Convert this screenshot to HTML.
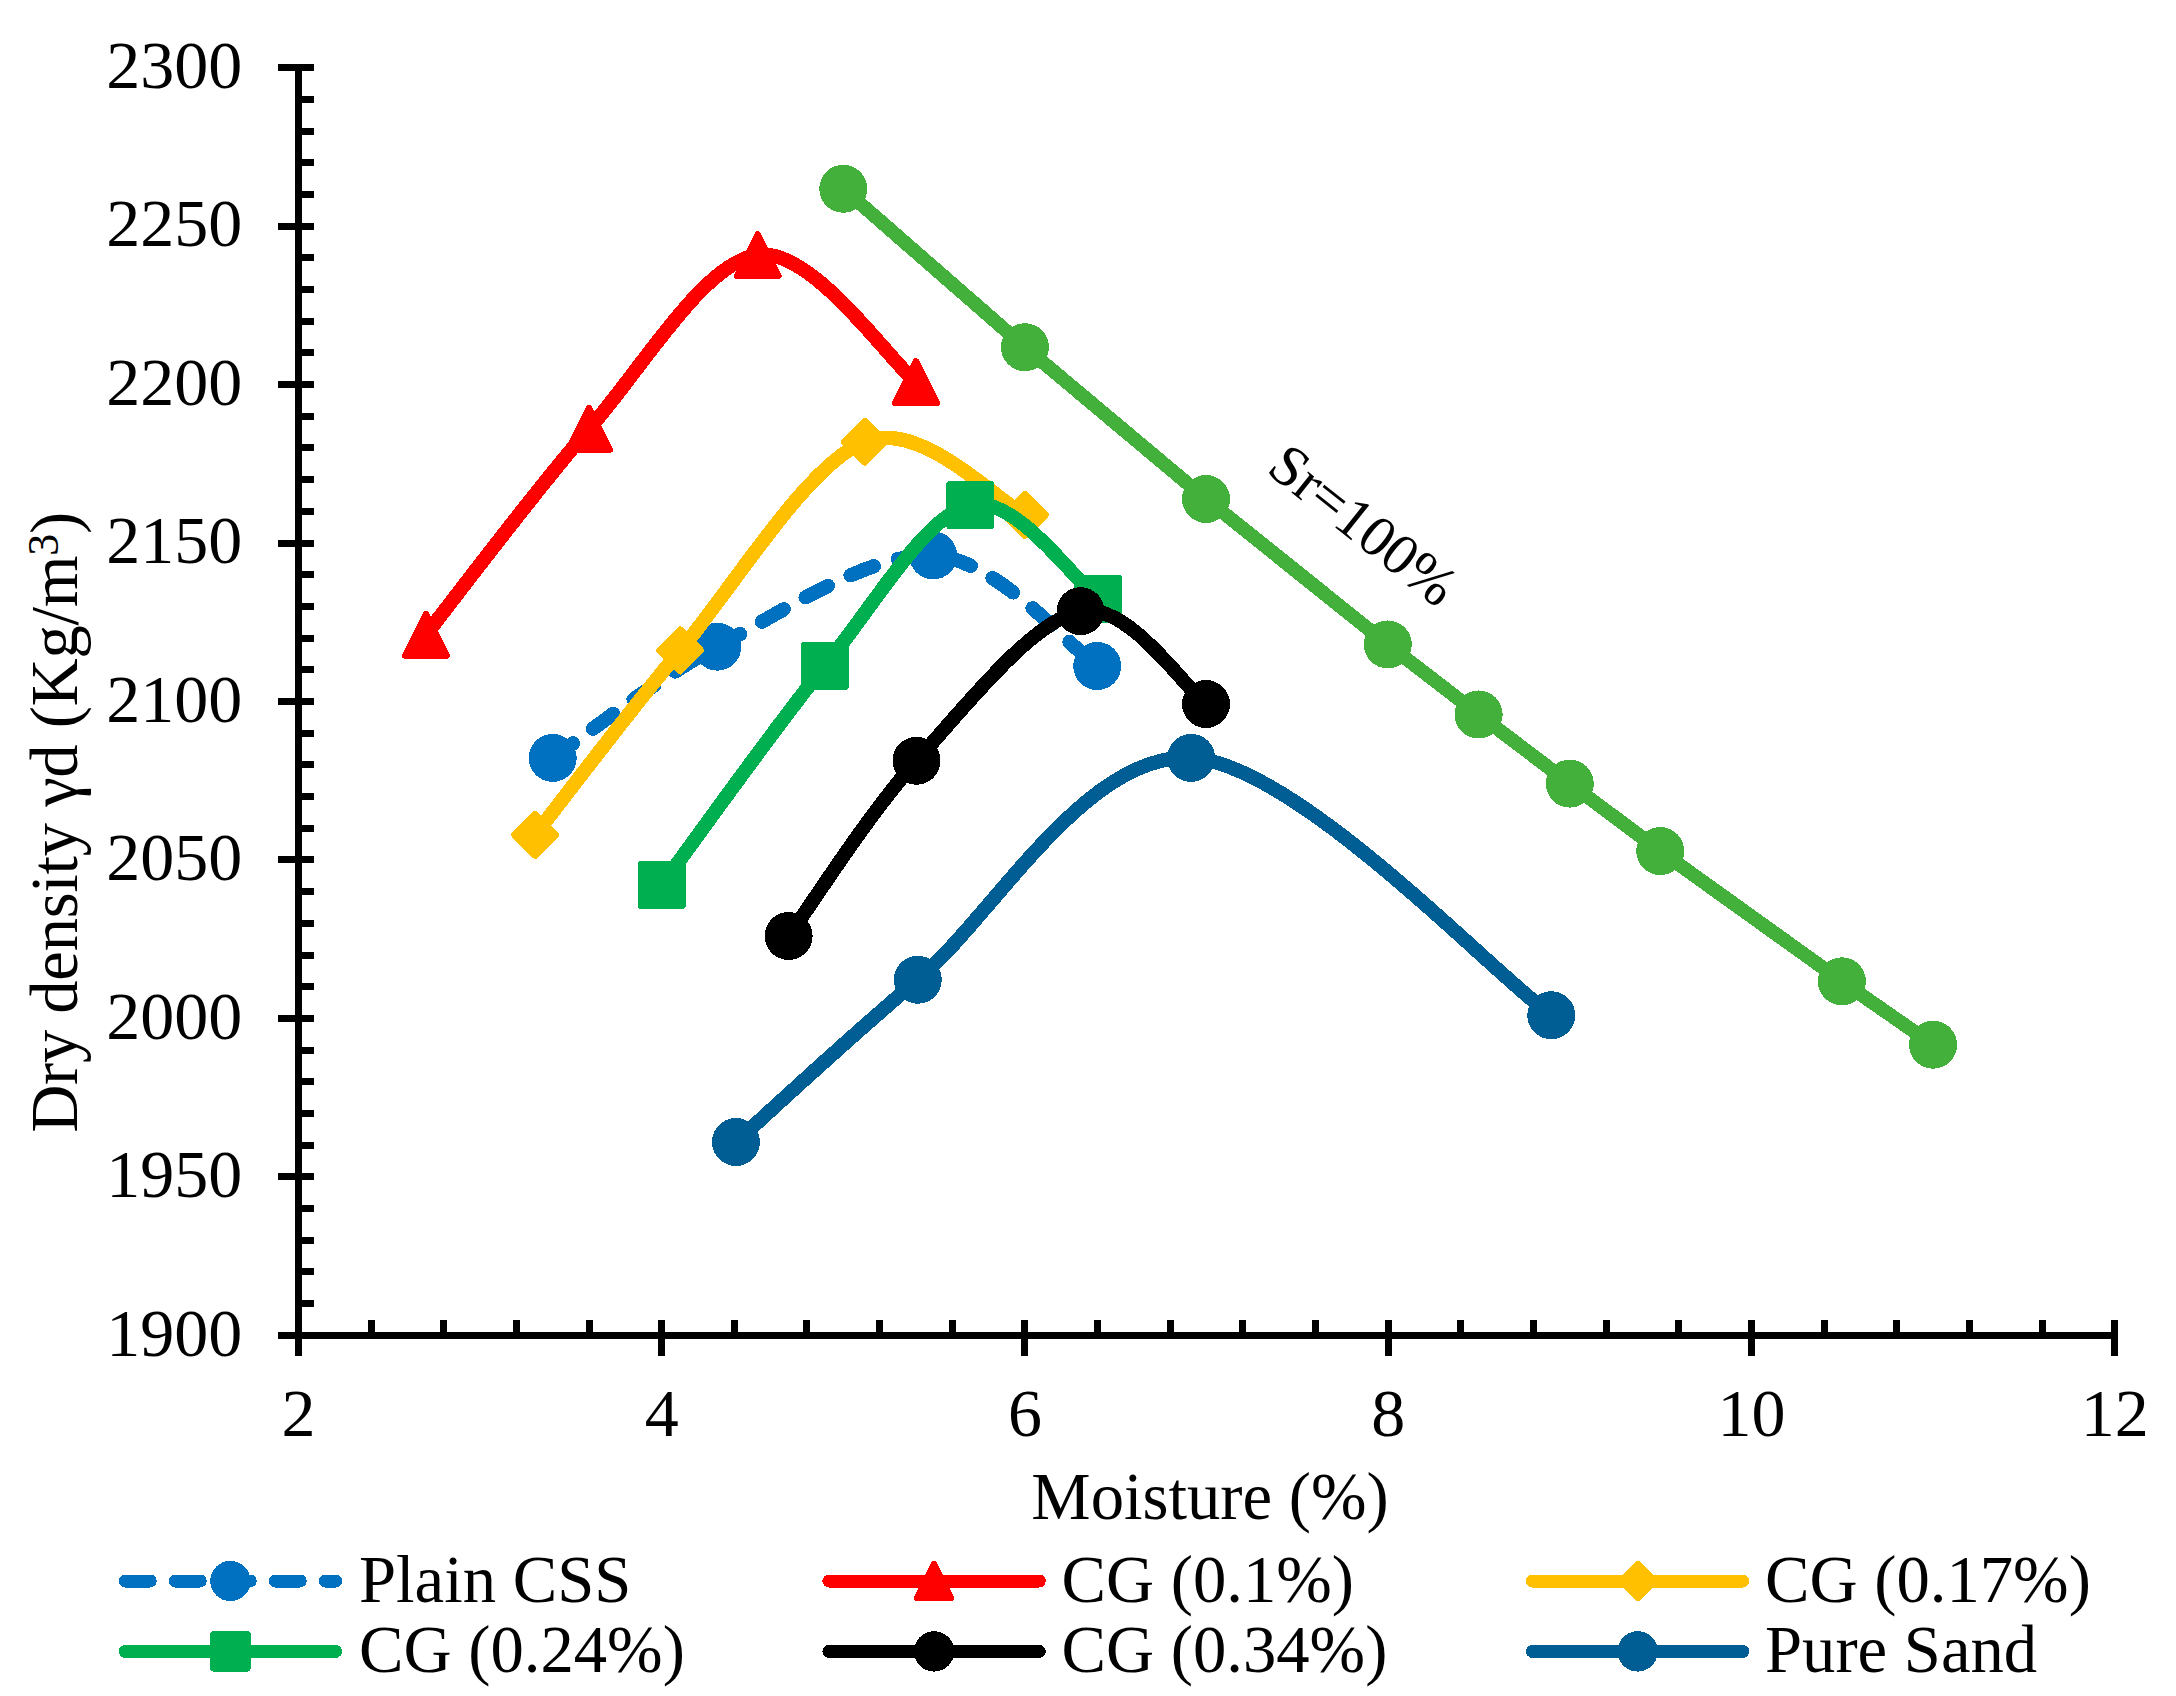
<!DOCTYPE html>
<html lang="en"><head><meta charset="utf-8"><title>Compaction curves</title>
<style>html,body{margin:0;padding:0;background:#fff}svg{display:block}</style></head>
<body>
<svg width="2176" height="1696" viewBox="0 0 2176 1696">
<rect width="2176" height="1696" fill="#fff"/>
<g stroke="#000" stroke-width="6.60" fill="none" stroke-linecap="butt" shape-rendering="crispEdges">
<path d="M298.40 64.40 V1355.70"/>
<path d="M278.70 1335.30 H2118.00"/>
<path d="M278.20 1335.30H313.60M298.40 1303.61H313.60M298.40 1271.92H313.60M298.40 1240.23H313.60M298.40 1208.54H313.60M278.20 1176.85H313.60M298.40 1145.16H313.60M298.40 1113.47H313.60M298.40 1081.78H313.60M298.40 1050.09H313.60M278.20 1018.40H313.60M298.40 986.71H313.60M298.40 955.02H313.60M298.40 923.33H313.60M298.40 891.64H313.60M278.20 859.95H313.60M298.40 828.26H313.60M298.40 796.57H313.60M298.40 764.88H313.60M298.40 733.19H313.60M278.20 701.50H313.60M298.40 669.81H313.60M298.40 638.12H313.60M298.40 606.43H313.60M298.40 574.74H313.60M278.20 543.05H313.60M298.40 511.36H313.60M298.40 479.67H313.60M298.40 447.98H313.60M298.40 416.29H313.60M278.20 384.60H313.60M298.40 352.91H313.60M298.40 321.22H313.60M298.40 289.53H313.60M298.40 257.84H313.60M278.20 226.15H313.60M298.40 194.46H313.60M298.40 162.77H313.60M298.40 131.08H313.60M298.40 99.39H313.60M278.20 67.70H313.60M298.40 1320.10V1355.50M371.05 1320.10V1335.30M443.70 1320.10V1335.30M516.36 1320.10V1335.30M589.01 1320.10V1335.30M661.66 1320.10V1355.50M734.31 1320.10V1335.30M806.96 1320.10V1335.30M879.62 1320.10V1335.30M952.27 1320.10V1335.30M1024.92 1320.10V1355.50M1097.57 1320.10V1335.30M1170.22 1320.10V1335.30M1242.88 1320.10V1335.30M1315.53 1320.10V1335.30M1388.18 1320.10V1355.50M1460.83 1320.10V1335.30M1533.48 1320.10V1335.30M1606.14 1320.10V1335.30M1678.79 1320.10V1335.30M1751.44 1320.10V1355.50M1824.09 1320.10V1335.30M1896.74 1320.10V1335.30M1969.40 1320.10V1335.30M2042.05 1320.10V1335.30M2114.70 1320.10V1355.50" stroke-width="7"/>
</g>
<g font-family='"Liberation Serif", "Times New Roman", serif' font-size="66.67" fill="#000">
<text x="242.3" y="1355.50" text-anchor="end" font-size="68">1900</text>
<text x="242.3" y="1197.05" text-anchor="end" font-size="68">1950</text>
<text x="242.3" y="1038.60" text-anchor="end" font-size="68">2000</text>
<text x="242.3" y="880.15" text-anchor="end" font-size="68">2050</text>
<text x="242.3" y="721.70" text-anchor="end" font-size="68">2100</text>
<text x="242.3" y="563.25" text-anchor="end" font-size="68">2150</text>
<text x="242.3" y="404.80" text-anchor="end" font-size="68">2200</text>
<text x="242.3" y="246.35" text-anchor="end" font-size="68">2250</text>
<text x="242.3" y="87.90" text-anchor="end" font-size="68">2300</text>
<text x="298.40" y="1435.8" text-anchor="middle" font-size="68">2</text>
<text x="661.66" y="1435.8" text-anchor="middle" font-size="68">4</text>
<text x="1024.92" y="1435.8" text-anchor="middle" font-size="68">6</text>
<text x="1388.18" y="1435.8" text-anchor="middle" font-size="68">8</text>
<text x="1751.44" y="1435.8" text-anchor="middle" font-size="68">10</text>
<text x="2114.70" y="1435.8" text-anchor="middle" font-size="68">12</text>
<text x="1210" y="1518.8" text-anchor="middle">Moisture (%)</text>
<text transform="translate(77 1132.8) rotate(-90)" letter-spacing="-0.3">Dry density γd (Kg/m<tspan dy="-18.7" font-size="44">3</tspan><tspan dy="18.7">)</tspan></text>
<text transform="translate(1265 471.5) rotate(38.5)" font-size="58.33">Sr=100%</text>
</g>
<g shape-rendering="crispEdges">
<path d="M552.68 757.91 C580.11 739.37 653.82 680.43 717.24 646.68 C780.66 612.93 869.87 552.19 933.20 555.41 C996.53 558.63 1069.87 647.57 1097.21 666.01" fill="none" stroke="#0070C0" stroke-width="14.30" stroke-linecap="round" stroke-linejoin="round" stroke-dasharray="25 25"/>
<circle cx="552.68" cy="757.91" r="24.00" fill="#0070C0"/>
<circle cx="717.24" cy="646.68" r="24.00" fill="#0070C0"/>
<circle cx="933.20" cy="555.41" r="24.00" fill="#0070C0"/>
<circle cx="1097.21" cy="666.01" r="24.00" fill="#0070C0"/>
<path d="M425.90 634.63 C453.09 600.36 533.70 492.24 589.01 428.97 C644.31 365.69 703.25 262.80 757.74 254.99 C812.23 247.17 889.58 360.89 915.94 382.06" fill="none" stroke="#FF0000" stroke-width="14.30" stroke-linecap="round" stroke-linejoin="round"/>
<path d="M425.90 613.76 L446.78 655.51 L405.03 655.51Z" fill="#FF0000" stroke="#FF0000" stroke-width="6.25" stroke-linejoin="round"/>
<path d="M589.01 408.09 L609.88 449.84 L568.13 449.84Z" fill="#FF0000" stroke="#FF0000" stroke-width="6.25" stroke-linejoin="round"/>
<path d="M757.74 234.11 L778.62 275.86 L736.87 275.86Z" fill="#FF0000" stroke="#FF0000" stroke-width="6.25" stroke-linejoin="round"/>
<path d="M915.94 361.19 L936.82 402.94 L895.07 402.94Z" fill="#FF0000" stroke="#FF0000" stroke-width="6.25" stroke-linejoin="round"/>
<path d="M535.06 834.91 C559.25 804.18 625.24 716.02 680.19 650.48 C735.13 584.93 807.27 464.25 864.72 441.64 C922.18 419.04 998.22 502.65 1024.92 514.85" fill="none" stroke="#FFC000" stroke-width="14.30" stroke-linecap="round" stroke-linejoin="round"/>
<path d="M535.06 814.04 L555.94 834.91 L535.06 855.79 L514.19 834.91Z" fill="#FFC000" stroke="#FFC000" stroke-width="6.25" stroke-linejoin="round"/>
<path d="M680.19 629.60 L701.06 650.48 L680.19 671.35 L659.31 650.48Z" fill="#FFC000" stroke="#FFC000" stroke-width="6.25" stroke-linejoin="round"/>
<path d="M864.72 420.77 L885.60 441.64 L864.72 462.52 L843.85 441.64Z" fill="#FFC000" stroke="#FFC000" stroke-width="6.25" stroke-linejoin="round"/>
<path d="M1024.92 493.97 L1045.80 514.85 L1024.92 535.72 L1004.05 514.85Z" fill="#FFC000" stroke="#FFC000" stroke-width="6.25" stroke-linejoin="round"/>
<path d="M661.66 884.99 C688.87 848.44 773.51 729.02 824.95 665.69 C876.38 602.36 924.69 516.11 970.25 505.02 C1015.81 493.93 1076.96 583.45 1098.30 599.14" fill="none" stroke="#00B050" stroke-width="14.30" stroke-linecap="round" stroke-linejoin="round"/>
<rect x="640.78" y="864.11" width="41.75" height="41.75" fill="#00B050" stroke="#00B050" stroke-width="6.25" stroke-linejoin="round"/>
<rect x="804.07" y="644.82" width="41.75" height="41.75" fill="#00B050" stroke="#00B050" stroke-width="6.25" stroke-linejoin="round"/>
<rect x="949.37" y="484.15" width="41.75" height="41.75" fill="#00B050" stroke="#00B050" stroke-width="6.25" stroke-linejoin="round"/>
<rect x="1077.42" y="578.27" width="41.75" height="41.75" fill="#00B050" stroke="#00B050" stroke-width="6.25" stroke-linejoin="round"/>
<path d="M788.62 936.01 C809.93 906.80 867.84 814.90 916.49 760.76 C965.13 706.62 1032.25 620.64 1080.50 611.18 C1128.75 601.73 1185.09 688.56 1206.01 704.04" fill="none" stroke="#000000" stroke-width="14.30" stroke-linecap="round" stroke-linejoin="round"/>
<circle cx="788.62" cy="936.01" r="24.00" fill="#000000"/>
<circle cx="916.49" cy="760.76" r="24.00" fill="#000000"/>
<circle cx="1080.50" cy="611.18" r="24.00" fill="#000000"/>
<circle cx="1206.01" cy="704.04" r="24.00" fill="#000000"/>
<path d="M735.95 1141.99 C766.25 1114.95 841.90 1043.75 917.76 979.74 C993.62 915.72 1085.52 751.99 1191.11 757.91 C1296.70 763.82 1491.26 972.34 1551.28 1015.23" fill="none" stroke="#005E94" stroke-width="14.30" stroke-linecap="round" stroke-linejoin="round"/>
<circle cx="735.95" cy="1141.99" r="24.00" fill="#005E94"/>
<circle cx="917.76" cy="979.74" r="24.00" fill="#005E94"/>
<circle cx="1191.11" cy="757.91" r="24.00" fill="#005E94"/>
<circle cx="1551.28" cy="1015.23" r="24.00" fill="#005E94"/>
<path d="M843.29 188.76 L1024.92 347.21 L1206.01 499.00 L1387.82 644.46 L1478.63 714.49 L1569.81 783.58 L1660.26 851.08 L1841.89 981.32 L1933.07 1044.70" fill="none" stroke="#44B03C" stroke-width="13.90" stroke-linecap="round" stroke-linejoin="round"/>
<circle cx="843.29" cy="188.76" r="24.00" fill="#44B03C"/>
<circle cx="1024.92" cy="347.21" r="24.00" fill="#44B03C"/>
<circle cx="1206.01" cy="499.00" r="24.00" fill="#44B03C"/>
<circle cx="1387.82" cy="644.46" r="24.00" fill="#44B03C"/>
<circle cx="1478.63" cy="714.49" r="24.00" fill="#44B03C"/>
<circle cx="1569.81" cy="783.58" r="24.00" fill="#44B03C"/>
<circle cx="1660.26" cy="851.08" r="24.00" fill="#44B03C"/>
<circle cx="1841.89" cy="981.32" r="24.00" fill="#44B03C"/>
<circle cx="1933.07" cy="1044.70" r="24.00" fill="#44B03C"/>
</g>
<g shape-rendering="crispEdges" font-family='"Liberation Serif", "Times New Roman", serif' font-size="66.67" fill="#000">
<path d="M125.25 1581.00H335.65" fill="none" stroke="#0070C0" stroke-width="13.00" stroke-linecap="round" stroke-dasharray="25 25"/>
<circle cx="230.45" cy="1581.00" r="20.20" fill="#0070C0"/>
<text x="359.00" y="1601.50">Plain CSS</text>
<path d="M828.90 1581.00H1039.30" fill="none" stroke="#FF0000" stroke-width="13.00" stroke-linecap="round"/>
<path d="M934.10 1563.92 L951.17 1598.08 L917.02 1598.08Z" fill="#FF0000" stroke="#FF0000" stroke-width="6.25" stroke-linejoin="round"/>
<text x="1061.50" y="1601.50">CG (0.1%)</text>
<path d="M1532.40 1581.00H1742.80" fill="none" stroke="#FFC000" stroke-width="13.00" stroke-linecap="round"/>
<path d="M1637.60 1563.92 L1654.68 1581.00 L1637.60 1598.08 L1620.53 1581.00Z" fill="#FFC000" stroke="#FFC000" stroke-width="6.25" stroke-linejoin="round"/>
<text x="1765.00" y="1601.50">CG (0.17%)</text>
<path d="M125.25 1651.40H335.65" fill="none" stroke="#00B050" stroke-width="13.00" stroke-linecap="round"/>
<rect x="213.38" y="1634.33" width="34.15" height="34.15" fill="#00B050" stroke="#00B050" stroke-width="6.25" stroke-linejoin="round"/>
<text x="359.00" y="1671.90">CG (0.24%)</text>
<path d="M828.90 1651.40H1039.30" fill="none" stroke="#000000" stroke-width="13.00" stroke-linecap="round"/>
<circle cx="934.10" cy="1651.40" r="20.20" fill="#000000"/>
<text x="1061.50" y="1671.90">CG (0.34%)</text>
<path d="M1532.40 1651.40H1742.80" fill="none" stroke="#005E94" stroke-width="13.00" stroke-linecap="round"/>
<circle cx="1637.60" cy="1651.40" r="20.20" fill="#005E94"/>
<text x="1765.00" y="1671.90">Pure Sand</text>
</g>
</svg>
</body></html>
